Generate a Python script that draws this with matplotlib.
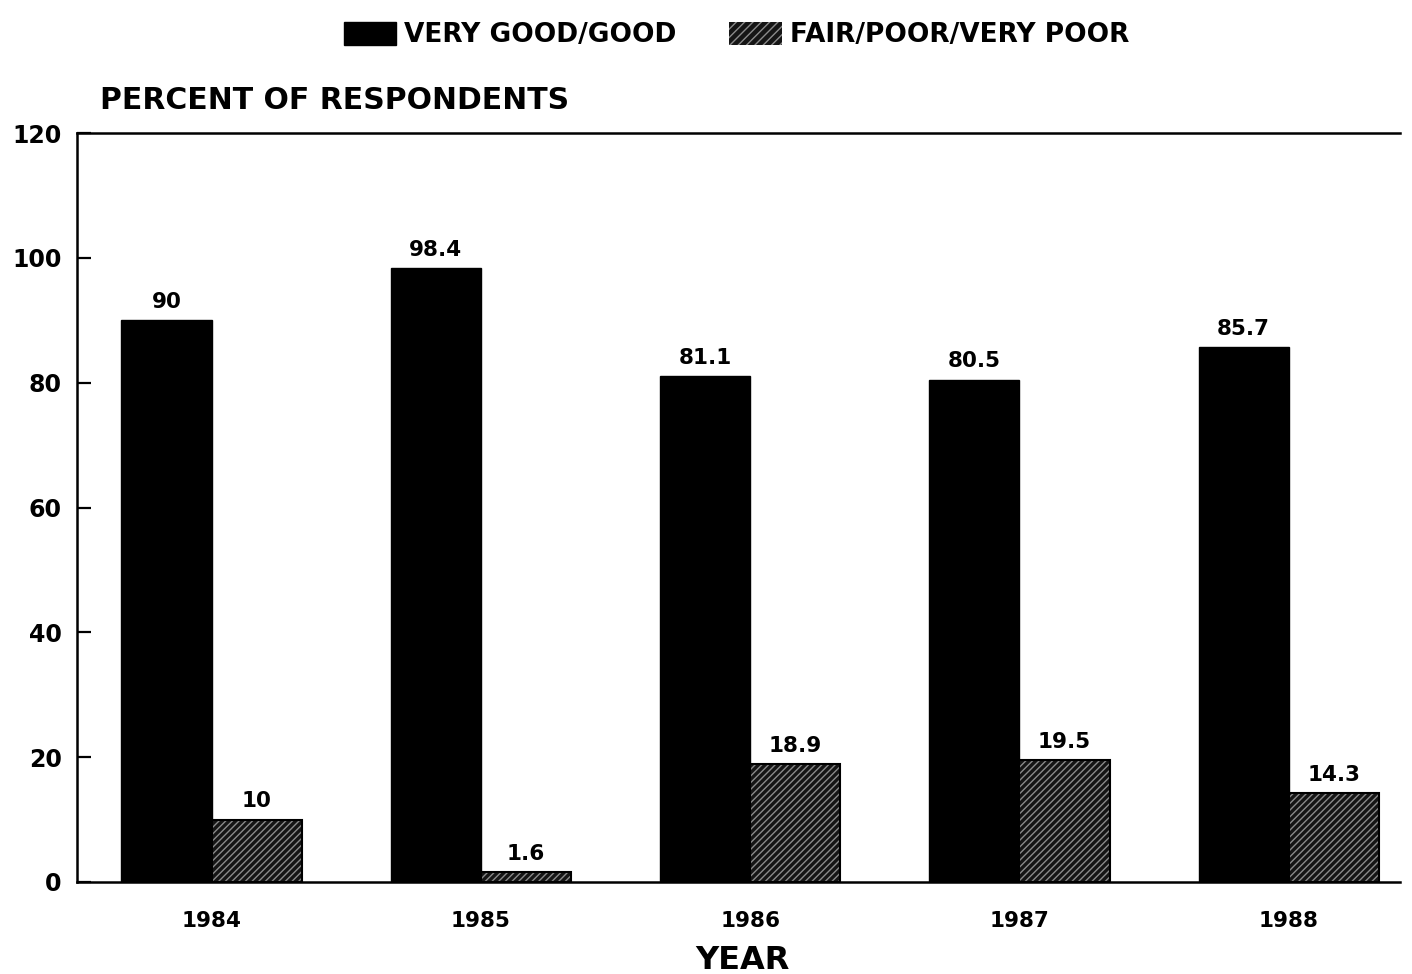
import matplotlib
matplotlib.use("Agg")
import matplotlib.pyplot as plt
from matplotlib.patches import Patch
import numpy as np

years = ["1984", "1985", "1986", "1987", "1988"]
good = [90, 98.4, 81.1, 80.5, 85.7]
poor = [10, 1.6, 18.9, 19.5, 14.3]
good_labels = ["90", "98.4", "81.1", "80.5", "85.7"]
poor_labels = ["10", "1.6", "18.9", "19.5", "14.3"]
series_names = ["VERY GOOD/GOOD", "FAIR/POOR/VERY POOR"]
yticks = [0, 20, 40, 60, 80, 100, 120]

plt.rcParams['font.family'] = ['DejaVu Sans']
plt.rcParams['font.weight'] = 'bold'
plt.rcParams['hatch.linewidth'] = 1.0

fig = plt.figure(figsize=(14.12, 9.74), dpi=100)
ax = fig.add_axes([0.0545, 0.0945, 0.937, 0.7689])

x = np.arange(len(years))
w = 0.335
ax.bar(x - w / 2, good, width=w, color='black', edgecolor='black', linewidth=1)
ax.bar(x + w / 2, poor, width=w, color='#151515', edgecolor='#8a8a8a', hatch='/////', linewidth=0)
ax.bar(x + w / 2, poor, width=w, fill=False, edgecolor='black', linewidth=1.5)

for xi, v, lab in zip(x, good, good_labels):
    ax.text(xi - w / 2, v + 1.3, lab, ha='center', va='bottom', fontsize=15.5, fontweight='bold')
for xi, v, lab in zip(x, poor, poor_labels):
    ax.text(xi + w / 2, v + 1.3, lab, ha='center', va='bottom', fontsize=15.5, fontweight='bold')

ax.set_xlim(-0.5, 4.413)
ax.set_ylim(0, 120)
ax.set_yticks(yticks)
ax.set_yticklabels([str(t) for t in yticks], fontsize=17, fontweight='bold')
ax.set_xticks(x)
ax.set_xticklabels(years, fontsize=15.5, fontweight='bold')
ax.tick_params(axis='x', length=0, pad=21)
ax.tick_params(axis='y', length=10, width=1.6, direction='in', pad=11)
ax.spines['right'].set_visible(False)
for s in ['left', 'top', 'bottom']:
    ax.spines[s].set_linewidth(1.8)

ax.set_xlabel("YEAR", fontsize=23, fontweight='bold')
ax.xaxis.set_label_coords(0.503, -0.084)
fig.text(0.071, 0.897, "PERCENT OF RESPONDENTS", fontsize=21.5, fontweight='bold', ha='left', va='center')

handles = [Patch(facecolor='black', edgecolor='black'),
           Patch(facecolor='#151515', edgecolor='#8a8a8a', hatch='////', linewidth=0)]
fig.legend(handles, series_names, loc='center', bbox_to_anchor=(0.5216, 0.964), ncol=2,
           frameon=False, handlelength=2.0, handleheight=0.95,
           columnspacing=2.0, handletextpad=0.3, prop={'weight': 'bold', 'size': 19})

fig.savefig("out.png", dpi=100)
